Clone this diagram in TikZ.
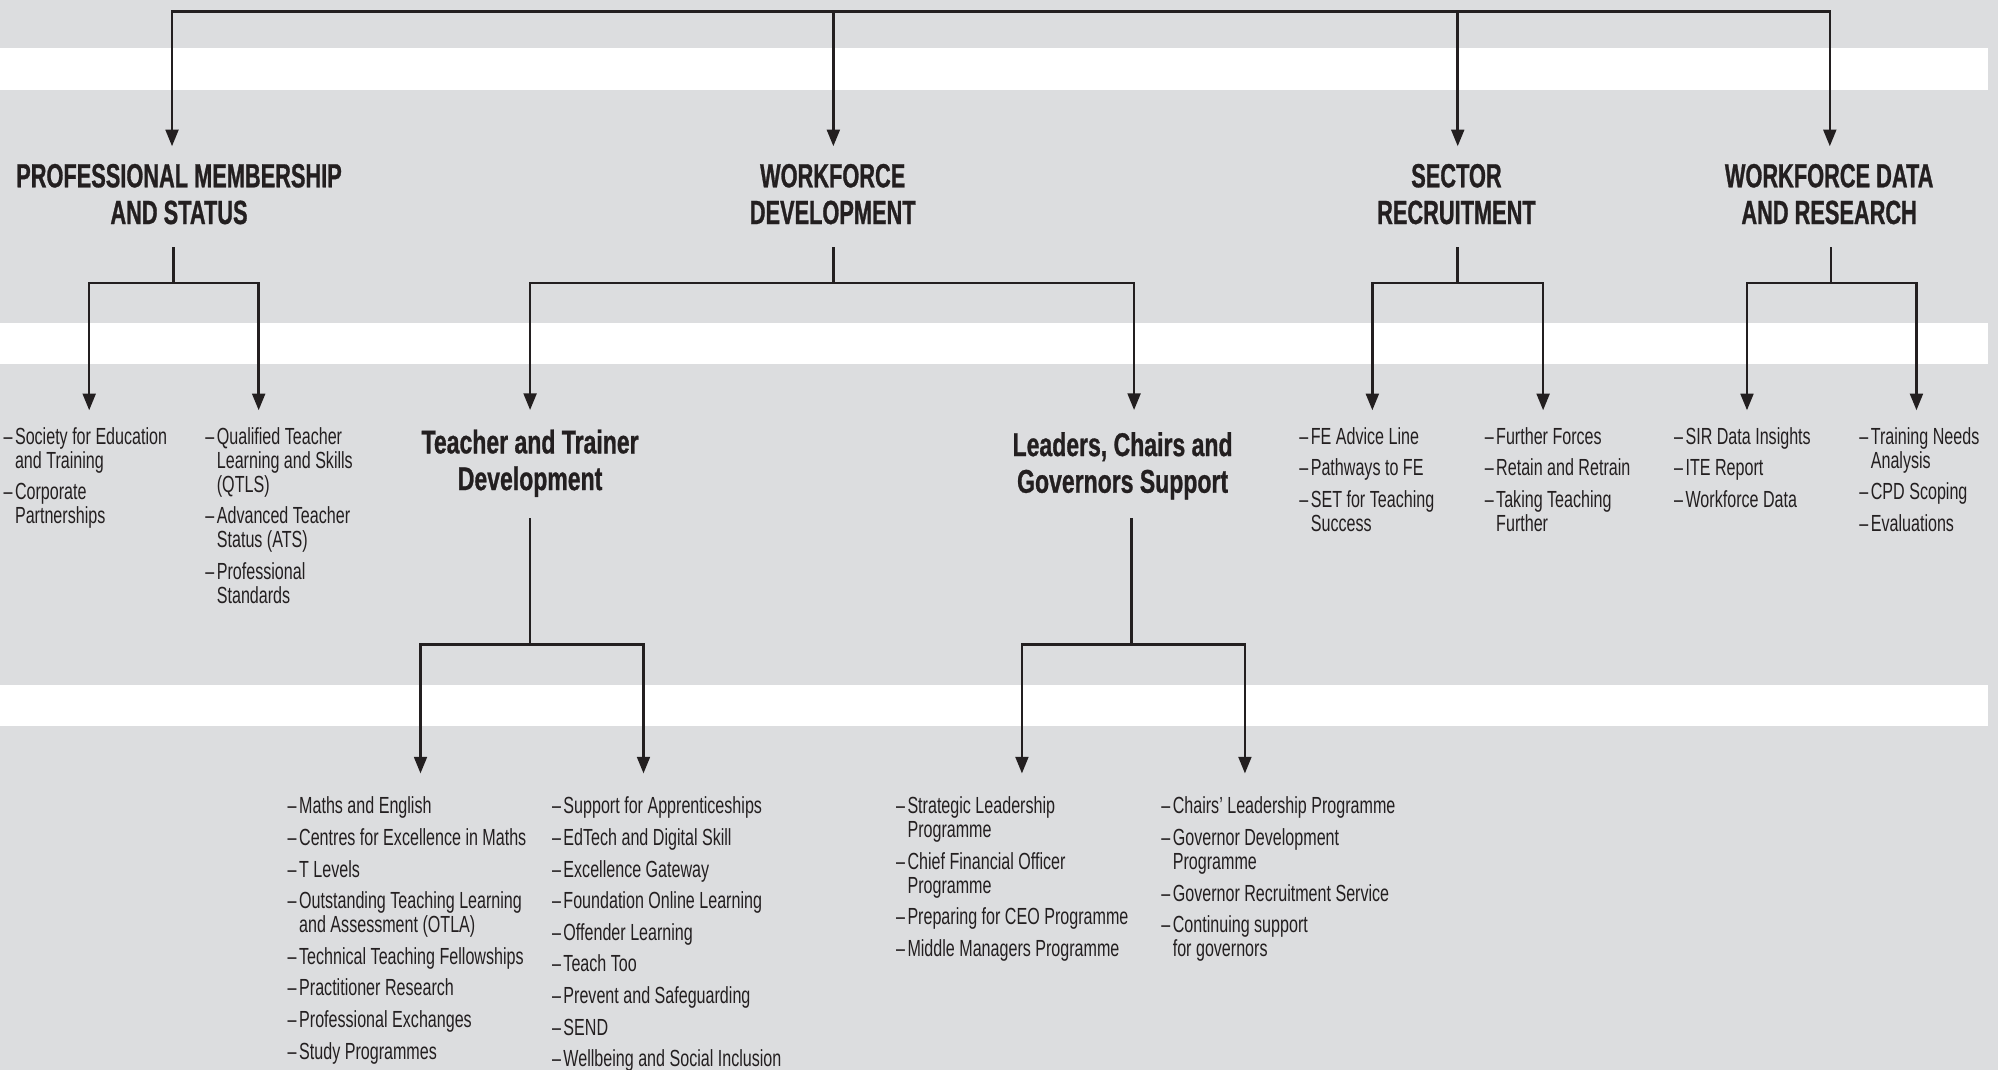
\documentclass[tikz,border=0pt]{standalone}
\usepackage{fontspec}
\usetikzlibrary{arrows.meta,calc}
\newfontfamily\headf{Liberation Sans}[FakeStretch=0.65,FakeBold=0.8]
\newfontfamily\subf{Liberation Sans}[FakeStretch=0.70,FakeBold=0.8]
\newfontfamily\listf{Liberation Sans}[FakeStretch=0.69]
\definecolor{bg}{HTML}{DCDDDF}
\definecolor{ink}{HTML}{231F20}
\newcommand\dsh{\makebox[9pt][l]{–}}
\newcommand\fst{\rule{0pt}{14pt}\makebox[9pt][l]{–}}
\newcommand\ind{\hspace*{9pt}}
\begin{document}
\begin{tikzpicture}[x=1pt,y=-1pt]
\tikzset{
  ln/.style={draw=ink, line width=2pt, line cap=rect},
  arr/.style={draw=ink, line width=2pt, -{Triangle[width=10pt,length=13pt]}},
  head/.style={font=\headf\bfseries\fontsize{26.3}{28.8}\selectfont, text=ink, align=center,
    inner sep=0pt, anchor=base, text height=60.8pt, text depth=19.2pt},
  subh/.style={font=\subf\bfseries\fontsize{25.8}{28.8}\selectfont, text=ink, align=center,
    inner sep=0pt, anchor=base},
  lst/.style={font=\listf\fontsize{18.3}{18.8}\selectfont, text=ink, align=left,
    inner xsep=0pt, inner ysep=12.5pt, anchor=north west},
  lstb/.style={lst, inner ysep=17.5pt},
}
\useasboundingbox (0,0) rectangle (1568,839.7);
\fill[bg] (0,0) rectangle (1568,839.7);
\fill[white] (0,37.5) rectangle (1560.2,70.5);
\fill[white] (0,253.8) rectangle (1560.2,285.9);
\fill[white] (0,537.8) rectangle (1560.2,569.9);

% top level headings (placed at baseline of last line)
\node[head] (h1) at (140.5,175.8) {PROFESSIONAL MEMBERSHIP\\AND STATUS};
\node[head] (h2) at (653.5,175.8) {WORKFORCE\\DEVELOPMENT};
\node[head] (h3) at (1143,175.8) {SECTOR\\RECRUITMENT};
\node[head] (h4) at (1435.5,175.8) {WORKFORCE DATA\\AND RESEARCH};

% bus
\coordinate (b1) at (135,9);
\coordinate (b2) at (654,9);
\coordinate (b3) at (1144,9);
\coordinate (b4) at (1436,9);
\draw[ln] (b1) -- (b4);
\draw[arr] (b1) -- (b1 |- h1.north);
\draw[arr] (b2) -- (b2 |- h2.north);
\draw[arr] (b3) -- (b3 |- h3.north);
\draw[arr] (b4) -- (b4 |- h4.north);

% sub headings (placed at baseline of last line)
\node[subh, text height=62.6pt, text depth=22.4pt] (s1) at (416,384.6) {Teacher and Trainer\\Development};
\node[subh, text height=64.7pt, text depth=20.3pt] (s2) at (881,386.7) {Leaders, Chairs and\\Governors Support};

% lists, upper row (first baseline at 348.5)
\node[lst] (l1) at (2.6,322) {\fst Society for Education\\\ind and Training\\[6pt]\dsh Corporate\\\ind Partnerships};
\node[lst] (l2) at (161,322) {\fst Qualified Teacher\\\ind Learning and Skills\\\ind (QTLS)\\[6pt]\dsh Advanced Teacher\\\ind Status (ATS)\\[6pt]\dsh Professional\\\ind Standards};
\node[lst] (l5) at (1019.5,322) {\fst FE Advice Line\\[6pt]\dsh Pathways to FE\\[6pt]\dsh SET for Teaching\\\ind Success};
\node[lst] (l6) at (1165,322) {\fst Further Forces\\[6pt]\dsh Retain and Retrain\\[6pt]\dsh Taking Teaching\\\ind Further};
\node[lst] (l7) at (1313.6,322) {\fst SIR Data Insights\\[6pt]\dsh ITE Report\\[6pt]\dsh Workforce Data};
\node[lst] (l8) at (1459,322) {\fst Training Needs\\\ind Analysis\\[6pt]\dsh CPD Scoping\\[6pt]\dsh Evaluations};

% lists, lower row (first baseline at 638.5)
\node[lstb] (l9) at (225.6,607) {\fst Maths and English\\[6pt]\dsh Centres for Excellence in Maths\\[6pt]\dsh T Levels\\[6pt]\dsh Outstanding Teaching Learning\\\ind and Assessment (OTLA)\\[6pt]\dsh Technical Teaching Fellowships\\[6pt]\dsh Practitioner Research\\[6pt]\dsh Professional Exchanges\\[6pt]\dsh Study Programmes};
\node[lstb] (l10) at (433,607) {\fst Support for Apprenticeships\\[6pt]\dsh EdTech and Digital Skill\\[6pt]\dsh Excellence Gateway\\[6pt]\dsh Foundation Online Learning\\[6pt]\dsh Offender Learning\\[6pt]\dsh Teach Too\\[6pt]\dsh Prevent and Safeguarding\\[6pt]\dsh SEND\\[6pt]\dsh Wellbeing and Social Inclusion};
\node[lstb] (l11) at (703,607) {\fst Strategic Leadership\\\ind Programme\\[6pt]\dsh Chief Financial Officer\\\ind Programme\\[6pt]\dsh Preparing for CEO Programme\\[6pt]\dsh Middle Managers Programme};
\node[lstb] (l12) at (911.2,607) {\fst Chairs’ Leadership Programme\\[6pt]\dsh Governor Development\\\ind Programme\\[6pt]\dsh Governor Recruitment Service\\[6pt]\dsh Continuing support\\\ind for governors};

% branches level 1
\coordinate (j1) at (136,222);
\coordinate (c1a) at (70,222);
\coordinate (c1b) at (203,222);
\draw[ln] (j1 |- h1.south) -- (j1);
\draw[ln] (c1a) -- (c1b);
\draw[arr] (c1a) -- (c1a |- l1.north);
\draw[arr] (c1b) -- (c1b |- l2.north);

\coordinate (j2) at (654,222);
\coordinate (c2a) at (416,222);
\coordinate (c2b) at (890,222);
\draw[ln] (j2 |- h2.south) -- (j2);
\draw[ln] (c2a) -- (c2b);
\draw[arr] (c2a) -- (c2a |- s1.north);
\draw[arr] (c2b) -- (c2b |- s2.north);

\coordinate (j3) at (1144,222);
\coordinate (c3a) at (1077,222);
\coordinate (c3b) at (1211,222);
\draw[ln] (j3 |- h3.south) -- (j3);
\draw[ln] (c3a) -- (c3b);
\draw[arr] (c3a) -- (c3a |- l5.north);
\draw[arr] (c3b) -- (c3b |- l6.north);

\coordinate (j4) at (1437,222);
\coordinate (c4a) at (1371,222);
\coordinate (c4b) at (1504,222);
\draw[ln] (j4 |- h4.south) -- (j4);
\draw[ln] (c4a) -- (c4b);
\draw[arr] (c4a) -- (c4a |- l7.north);
\draw[arr] (c4b) -- (c4b |- l8.north);

% branches level 2
\coordinate (j5) at (416,506);
\coordinate (c5a) at (330,506);
\coordinate (c5b) at (505,506);
\draw[ln] (j5 |- s1.south) -- (j5);
\draw[ln] (c5a) -- (c5b);
\draw[arr] (c5a) -- (c5a |- l9.north);
\draw[arr] (c5b) -- (c5b |- l10.north);

\coordinate (j6) at (888,506);
\coordinate (c6a) at (802,506);
\coordinate (c6b) at (977,506);
\draw[ln] (j6 |- s2.south) -- (j6);
\draw[ln] (c6a) -- (c6b);
\draw[arr] (c6a) -- (c6a |- l11.north);
\draw[arr] (c6b) -- (c6b |- l12.north);
\end{tikzpicture}
\end{document}
